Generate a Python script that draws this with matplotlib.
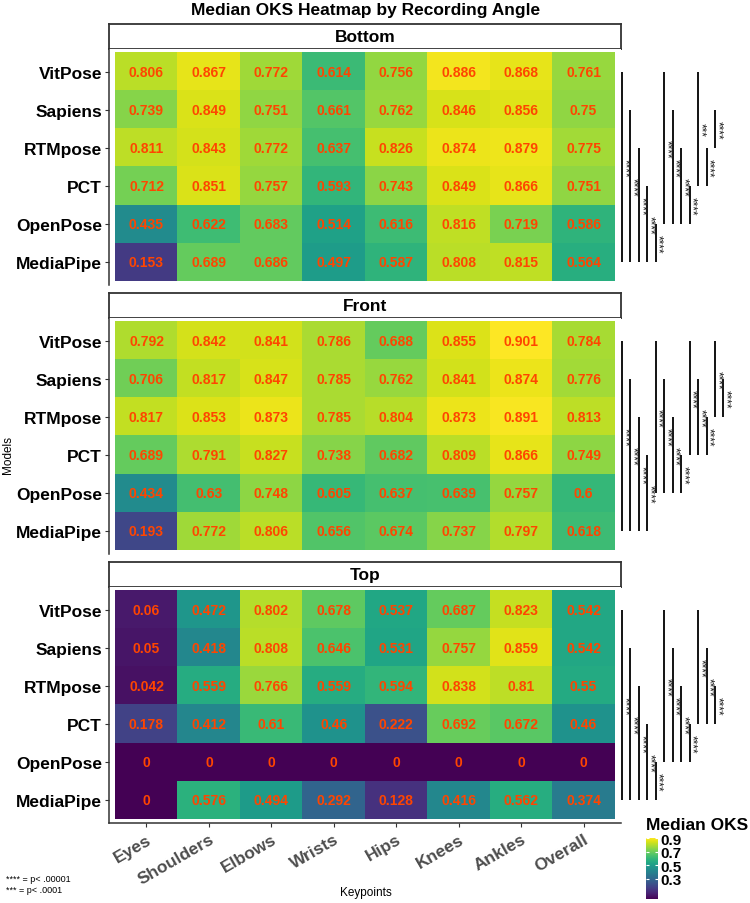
import numpy as np
import matplotlib
matplotlib.use('Agg')
import matplotlib.pyplot as plt
from matplotlib.colors import Normalize
from matplotlib import cm

plt.rcParams['font.family'] = ['Liberation Sans', 'DejaVu Sans']

# ---------------- data ----------------
models = ["VitPose", "Sapiens", "RTMpose", "PCT", "OpenPose", "MediaPipe"]
keypoints = ["Eyes", "Shoulders", "Elbows", "Wrists", "Hips", "Knees", "Ankles", "Overall"]
angles = ["Bottom", "Front", "Top"]

bottom_vals = [
    [0.806, 0.867, 0.772, 0.614, 0.756, 0.886, 0.868, 0.761],
    [0.739, 0.849, 0.751, 0.661, 0.762, 0.846, 0.856, 0.75],
    [0.811, 0.843, 0.772, 0.637, 0.826, 0.874, 0.879, 0.775],
    [0.712, 0.851, 0.757, 0.593, 0.743, 0.849, 0.866, 0.751],
    [0.435, 0.622, 0.683, 0.514, 0.616, 0.816, 0.719, 0.586],
    [0.153, 0.689, 0.686, 0.497, 0.587, 0.808, 0.815, 0.564],
]
front_vals = [
    [0.792, 0.842, 0.841, 0.786, 0.688, 0.855, 0.901, 0.784],
    [0.706, 0.817, 0.847, 0.785, 0.762, 0.841, 0.874, 0.776],
    [0.817, 0.853, 0.873, 0.785, 0.804, 0.873, 0.891, 0.813],
    [0.689, 0.791, 0.827, 0.738, 0.682, 0.809, 0.866, 0.749],
    [0.434, 0.63, 0.748, 0.605, 0.637, 0.639, 0.757, 0.6],
    [0.193, 0.772, 0.806, 0.656, 0.674, 0.737, 0.797, 0.618],
]
top_vals = [
    [0.06, 0.472, 0.802, 0.678, 0.537, 0.687, 0.823, 0.542],
    [0.05, 0.418, 0.808, 0.646, 0.531, 0.757, 0.859, 0.542],
    [0.042, 0.559, 0.766, 0.559, 0.594, 0.838, 0.81, 0.55],
    [0.178, 0.412, 0.61, 0.46, 0.222, 0.692, 0.672, 0.46],
    [0, 0, 0, 0, 0, 0, 0, 0],
    [0, 0.576, 0.494, 0.292, 0.128, 0.416, 0.562, 0.374],
]

bottom_tests = [
    ("VitPose", "MediaPipe", "****"), ("Sapiens", "MediaPipe", "****"),
    ("RTMpose", "MediaPipe", "****"), ("PCT", "MediaPipe", "****"),
    ("OpenPose", "MediaPipe", "****"),
    ("VitPose", "OpenPose", "****"), ("Sapiens", "OpenPose", "****"),
    ("RTMpose", "OpenPose", "****"), ("PCT", "OpenPose", "****"),
    ("VitPose", "PCT", "***"), ("RTMpose", "PCT", "****"),
    ("Sapiens", "RTMpose", "****"),
]
front_tests = [
    ("VitPose", "MediaPipe", "****"), ("Sapiens", "MediaPipe", "****"),
    ("RTMpose", "MediaPipe", "****"), ("PCT", "MediaPipe", "****"),
    ("VitPose", "OpenPose", "****"), ("Sapiens", "OpenPose", "****"),
    ("RTMpose", "OpenPose", "****"), ("PCT", "OpenPose", "****"),
    ("VitPose", "PCT", "****"), ("Sapiens", "PCT", "****"),
    ("RTMpose", "PCT", "****"),
    ("VitPose", "RTMpose", "****"), ("Sapiens", "RTMpose", "****"),
]
top_tests = [
    ("VitPose", "MediaPipe", "****"), ("Sapiens", "MediaPipe", "****"),
    ("RTMpose", "MediaPipe", "****"), ("PCT", "MediaPipe", "****"),
    ("OpenPose", "MediaPipe", "****"),
    ("VitPose", "OpenPose", "****"), ("Sapiens", "OpenPose", "****"),
    ("RTMpose", "OpenPose", "****"), ("PCT", "OpenPose", "****"),
    ("VitPose", "PCT", "****"), ("Sapiens", "PCT", "****"),
    ("RTMpose", "PCT", "****"),
]

panel_vals = [bottom_vals, front_vals, top_vals]
panel_tests = [bottom_tests, front_tests, top_tests]

# ---------------- layout ----------------
W, H = 750, 904
fig = plt.figure(figsize=(W / 100, H / 100), dpi=100)


def box(x0, y0, x1, y1):
    return [x0 / W, 1 - y1 / H, (x1 - x0) / W, (y1 - y0) / H]


norm = Normalize(vmin=0, vmax=0.901)
cmap = plt.get_cmap('viridis')
axis_col = '#333333'

for p, angle in enumerate(angles):
    off = 269 * p
    s_top, s_bot = 25 + off, 50 + off
    a_top, a_bot = 50 + off, 286 + off

    # strip
    sax = fig.add_axes(box(109, s_top, 621, s_bot))
    sax.set_xticks([]); sax.set_yticks([])
    for sp in sax.spines.values():
        sp.set_color(axis_col); sp.set_linewidth(1.3)
    sax.text(0.5, 0.5, angle, ha='center', va='center', fontweight='bold',
             fontsize=12.5, transform=sax.transAxes)

    # heatmap
    ax = fig.add_axes(box(109, a_top, 621, a_bot))
    data = np.array(panel_vals[p])
    ax.imshow(data, cmap=cmap, norm=norm, aspect='auto', interpolation='nearest')
    ax.set_xlim(-0.6, 7.6)
    ax.set_ylim(5.605, -0.605)
    for i in range(len(models)):
        for j in range(len(keypoints)):
            ax.text(j, i, f"{data[i, j]:g}", ha='center', va='center',
                    color='#FF4500', fontweight='bold', fontsize=10)
    for s in ['top', 'right']:
        ax.spines[s].set_visible(False)
    ax.spines['left'].set_color(axis_col)
    ax.spines['left'].set_linewidth(1.1)
    ax.set_yticks(range(len(models)))
    ax.set_yticklabels(models, fontweight='bold', fontsize=12.5, color='black')
    ax.tick_params(axis='y', length=3, color=axis_col, pad=2)
    if p == len(angles) - 1:
        ax.spines['bottom'].set_color(axis_col)
        ax.spines['bottom'].set_linewidth(1.1)
        ax.set_xticks(range(len(keypoints)))
        ax.set_xticklabels(keypoints, rotation=30, ha='right', va='top',
                           rotation_mode='anchor', fontweight='bold',
                           fontsize=12.5, color='#4d4d4d')
        ax.tick_params(axis='x', length=3, color=axis_col, pad=3)
    else:
        ax.spines['bottom'].set_visible(False)
        ax.set_xticks([])

    # significance brackets
    bax = fig.add_axes(box(615, a_top, 750, a_bot))
    bax.set_xlim(615, 750)
    bax.set_ylim(5.605, -0.605)
    bax.axis('off')
    for k, (a, b, lab) in enumerate(panel_tests[p]):
        x = 622 + 8.45 * k
        ia, ib = models.index(a), models.index(b)
        bax.plot([x, x], [ia, ib], color='black', lw=1.3, solid_capstyle='butt')
        bax.text(x + 2.0, (ia + ib) / 2, lab, rotation=-90, ha='center',
                 va='center', fontsize=8.5, color='#222222')

# ---------------- titles & legend ----------------
fig.text(366 / W, 1 - 10 / H, "Median OKS Heatmap by Recording Angle",
         ha='center', va='center', fontweight='bold', fontsize=12.5)
fig.text(8 / W, 1 - 455 / H, "Models", rotation=90, ha='center', va='center',
         fontsize=8.5)
fig.text(366 / W, 1 - 893 / H, "Keypoints", ha='center', va='center',
         fontsize=8.5)
fig.text(6 / W, 1 - 880 / H, "**** = p< .00001", ha='left', va='center',
         fontsize=6.5)
fig.text(6 / W, 1 - 891 / H, "*** = p< .0001", ha='left', va='center',
         fontsize=6.5)

fig.text(646 / W, 1 - 826 / H, "Median OKS", ha='left', va='center',
         fontweight='bold', fontsize=12.5)
cax = fig.add_axes(box(646, 839, 658, 900))
sm = cm.ScalarMappable(norm=norm, cmap=cmap)
cb = fig.colorbar(sm, cax=cax, ticks=[0.3, 0.5, 0.7, 0.9])
cb.outline.set_visible(False)
cb.ax.set_yticklabels(['0.3', '0.5', '0.7', '0.9'], fontweight='bold',
                      fontsize=11)
cb.ax.tick_params(direction='in', color='white', length=2.5, width=0.8,
                  left=True, right=True, pad=2)

fig.savefig('out.png', dpi=100)
